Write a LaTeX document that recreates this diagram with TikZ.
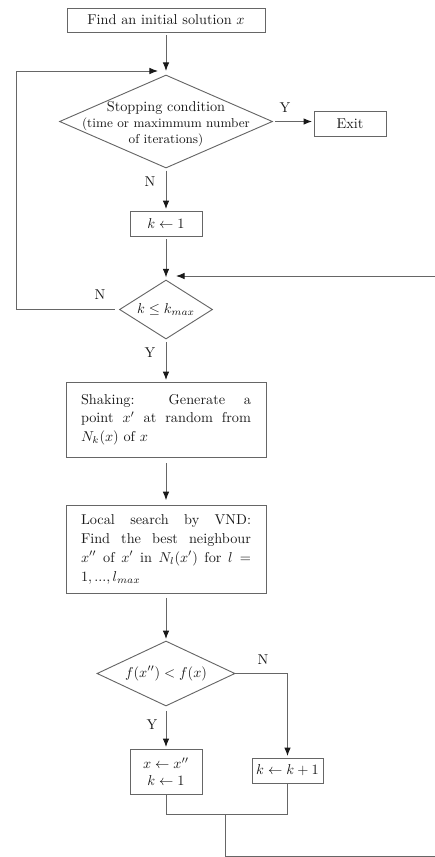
\documentclass[tikz,border=0pt]{standalone}
\usetikzlibrary{shapes.geometric,arrows.meta}
\def\upx{0.7pt}
\begin{document}
\begin{tikzpicture}[x=0.7pt,y=-0.7pt, line width=0.65pt,
  box/.style={draw=black!60, text=black!90, inner sep=0pt, align=center},
  dia/.style={draw=black!60, diamond, inner sep=0pt},
  conn/.style={draw=black!60, -{Latex[length=6pt,width=4.6pt,color=black!90]}},
  plain/.style={draw=black!60},
  lbl/.style={text=black!90, inner sep=0pt}]
\useasboundingbox (0,0) rectangle (435,857);
% nodes
\node[box, minimum width={198*\upx}, minimum height={24*\upx}] (init) at (166,20) {Find an initial solution $x$};
\node[dia, minimum width={213*\upx}, minimum height={93*\upx}] (stop) at (166,121.5) {};
\node[lbl, align=center, font=\small] (stoptxt) at (166,124) {{\normalsize Stopping condition}\\(time or maximmum number\\of iterations)};
\node[box, minimum width={72*\upx}, minimum height={25*\upx}] (exit) at (350,123.5) {Exit};
\node[box, minimum width={72*\upx}, minimum height={25*\upx}] (k1) at (166,223.5) {$k \leftarrow 1$};
\node[dia, minimum width={93*\upx}, minimum height={59*\upx}] (kmax) at (166,309.5) {};
\node[lbl] (kmaxtxt) at (166,309.5) {$k \leq k_{max}$};
\node[box, minimum width={200*\upx}, minimum height={75*\upx}, text width={170*\upx}, align=justify, font={\fontsize{10}{13}\selectfont}] (shake) at (166,419.5) {Shaking: Generate a\linebreak point $x'$ at random from\linebreak $N_k(x)$ of $x$};
\node[box, minimum width={200*\upx}, minimum height={88*\upx}, text width={170*\upx}, align=justify, font={\fontsize{10}{13.3}\selectfont}] (vnd) at (166,549) {Local search by VND:\linebreak Find the best neighbour\linebreak $x''$ of $x'$ in $N_l(x')$ for $l=$\linebreak $1,...,l_{max}$};
\node[dia, minimum width={138*\upx}, minimum height={65*\upx}] (fcmp) at (166,673.5) {};
\node[lbl] (fcmptxt) at (166,673.5) {$f(x'') < f(x)$};
\node[box, minimum width={72*\upx}, minimum height={45*\upx}] (upd) at (166,771.5) {$x \leftarrow x''$\\$k \leftarrow 1$};
\node[box, minimum width={71*\upx}, minimum height={25*\upx}] (inc) at (287.5,770.5) {$k \leftarrow k+1$};
% labels
\node[lbl] (lY1) at (285,108) {Y};
\node[lbl] (lN1) at (150,182) {N};
\node[lbl] (lN2) at (100,295) {N};
\node[lbl] (lY2) at (150,353) {Y};
\node[lbl] (lN3) at (263,660) {N};
\node[lbl] (lY3) at (152,725) {Y};
% coordinates
\coordinate (lL) at (16,0);
\coordinate (looptip) at (158,71);
\coordinate (merge) at (225,814);
\coordinate (bot) at (0,856);
\coordinate (rc) at (440,276);
\coordinate (rettip) at (176,276);
% connectors
\draw[conn, shorten <=2pt, shorten >=2.5pt] (init.south) -- (stop.north);
\draw[conn, shorten <=1.5pt, shorten >=1pt] (stop.east) -- (stop.east -| exit.west);
\draw[conn, shorten <=1.5pt, shorten >=1pt] (stop.south) -- (k1.north);
\draw[conn, shorten <=2pt, shorten >=1.5pt] (k1.south) -- (kmax.north);
\draw[conn, shorten <=3pt] (kmax.west) -- (kmax.west -| lL) |- (looptip);
\draw[conn, shorten <=2pt, shorten >=1pt] (kmax.south) -- (shake.north);
\draw[conn, shorten <=4pt, shorten >=3pt] (shake.south) -- (vnd.north);
\draw[conn, shorten <=3pt, shorten >=1pt] (vnd.south) -- (fcmp.north);
\draw[conn, shorten >=1pt] (fcmp.east) -| (inc.north);
\draw[conn, shorten <=3pt, shorten >=1pt] (fcmp.south) -- (upd.north);
\draw[plain] (upd.south) |- (merge -| inc.south) -- (inc.south);
\draw[conn] (merge) -- (merge |- bot) -- (bot -| rc) -- (rc) -- (rettip);
\end{tikzpicture}
\end{document}
